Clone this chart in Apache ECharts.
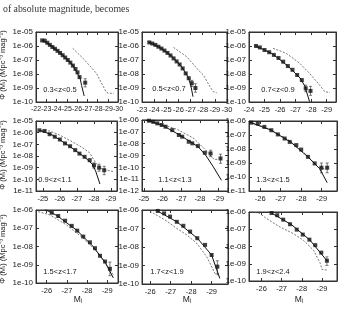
<!DOCTYPE html>
<html><head><meta charset="utf-8">
<script src="https://cdn.jsdelivr.net/npm/echarts@6/dist/echarts.min.js"></script>
<style>html,body{margin:0;padding:0;background:#fff}#c{width:338px;height:311px}</style>
</head><body><div id="c"></div>
<script>
// ---- panel labels (redshift bins) ----
const zLabels = ['0.3<z<0.5','0.5<z<0.7','0.7<z<0.9','0.9<z<1.1','1.1<z<1.3','1.3<z<1.5','1.5<z<1.7','1.7<z<1.9','1.9<z<2.4'];

// ---- x tick labels (absolute magnitude M_i) ----
const xTicks1 = [-22,-23,-24,-25,-26,-27,-28,-29,-30];
const xTicks2 = [-23,-24,-25,-26,-27,-28,-29,-30];
const xTicks3 = [-24,-25,-26,-27,-28,-29];
const xTicks4 = [-25,-26,-27,-28,-29];
const xTicks5 = [-25,-26,-27,-28,-29];
const xTicks6 = [-26,-27,-28,-29];
const xTicks789 = [-26,-27,-28,-29];

// ---- axis ranges [M bright, M faint], [phi min, phi max] ----
const xRanges = [[-22,-30],[-23,-30],[-24,-29.6],[-24.6,-29.35],[-24.9,-29.5],[-25.45,-29.75],[-25.47,-29.53],[-25.6,-29.8],[-25.38,-29.75]];
const yRanges = [[1e-10,1e-5],[1e-10,1e-5],[1e-10,1e-5],[1e-11,1e-5],[1e-12,1e-6],[1e-11,1e-6],[1e-10,1e-6],[1e-10,1e-6],[1e-10,1e-6]];

// ---- binned data points (filled squares): [M_i, Phi] ----
const pts1 = [[-22.6,2.5e-6],[-22.85,2.4e-6],[-23.1,1.7e-6],[-23.35,1.2e-6],[-23.6,8.5e-7],[-23.85,6.3e-7],[-24.1,4.5e-7],[-24.35,3.2e-7],[-24.6,2.2e-7],[-24.85,1.5e-7],[-25.1,1.0e-7],[-25.35,6.5e-8],[-25.6,4.0e-8],[-25.85,2.3e-8],[-26.05,1.3e-8],[-26.25,6.0e-9],[-26.8,2.4e-9]];
const pts2 = [[-23.6,1.8e-6],[-23.85,1.5e-6],[-24.1,1.2e-6],[-24.35,8.9e-7],[-24.6,6.6e-7],[-24.85,4.7e-7],[-25.1,3.2e-7],[-25.35,2.1e-7],[-25.6,1.3e-7],[-25.85,7.9e-8],[-26.1,4.8e-8],[-26.35,2.5e-8],[-26.6,1.1e-8],[-26.85,5e-9],[-27.1,2.2e-9],[-27.4,1.0e-9]];
const pts3 = [[-24.45,1.0e-6],[-24.7,7.9e-7],[-25.0,5.2e-7],[-25.3,3.6e-7],[-25.6,2.3e-7],[-25.9,1.4e-7],[-26.2,7.6e-8],[-26.5,3.7e-8],[-26.8,2.0e-8],[-27.1,8.5e-9],[-27.4,3.7e-9],[-27.65,9.5e-10],[-27.96,6.2e-10]];
const pts4 = [[-24.8,1.6e-6],[-25.1,1.4e-6],[-25.4,7.4e-7],[-25.7,4.5e-7],[-26.0,2.6e-7],[-26.3,1.2e-7],[-26.6,6.9e-8],[-26.9,3.2e-8],[-27.15,1.6e-8],[-27.45,8.5e-9],[-27.75,4.4e-9],[-28.0,1.6e-9],[-28.3,1.0e-9],[-28.6,6e-10]];
const pts5 = [[-25.27,8.7e-7],[-25.5,7e-7],[-25.72,5.2e-7],[-25.95,3.8e-7],[-26.16,2.7e-7],[-26.52,1.4e-7],[-26.87,5.4e-8],[-27.05,3.9e-8],[-27.4,1.45e-8],[-27.59,1.07e-8],[-27.89,6.3e-9],[-28.26,1.7e-9],[-28.57,1.5e-9],[-29.1,5.6e-10]];
const pts6 = [[-25.56,7.6e-7],[-25.88,6.5e-7],[-26.2,3.8e-7],[-26.54,2.2e-7],[-26.86,1.1e-7],[-27.19,5.6e-8],[-27.44,3.2e-8],[-27.76,1.9e-8],[-28.0,9.1e-9],[-28.33,2.75e-9],[-28.66,9.3e-10],[-28.99,4.6e-10],[-29.27,4.6e-10]];
const pts7 = [[-25.92,1.1e-6],[-26.25,7.1e-7],[-26.57,4.7e-7],[-26.91,2.6e-7],[-27.24,1.35e-7],[-27.51,7.4e-8],[-27.81,3.5e-8],[-28.14,1.7e-8],[-28.39,8.1e-9],[-28.64,3.1e-9],[-28.89,1.5e-9],[-29.13,6e-10]];
const pts8 = [[-26.37,8.9e-7],[-26.68,6.6e-7],[-26.97,4.4e-7],[-27.3,2.3e-7],[-27.62,1.4e-7],[-27.95,6.8e-8],[-28.3,3e-8],[-28.68,1.3e-8],[-29.0,3.7e-9],[-29.28,8.7e-10]];
const pts9 = [[-26.5,8.7e-7],[-26.78,6.5e-7],[-27.08,3.6e-7],[-27.42,1.95e-7],[-27.75,9.5e-8],[-28.05,4.9e-8],[-28.38,2.5e-8],[-28.67,1.2e-8],[-28.97,4.4e-9],[-29.25,1.5e-9]];

// ---- error bars on the faint bins: [M_i, Phi low, Phi high] ----
const err1 = [[-26.8,1.2e-9,4.6e-9]];
const err2 = [[-27.1,1.3e-9,3.5e-9],[-27.4,5e-10,2e-9]];
const err3 = [[-27.65,5.5e-10,1.6e-9],[-27.96,3e-10,1.3e-9]];
const err4 = [[-28.0,9e-10,2.6e-9],[-28.3,5e-10,2e-9],[-28.6,2.5e-10,1.3e-9]];
const err5 = [[-28.57,8e-10,2.8e-9],[-29.1,2.2e-10,1.3e-9]];
const err6 = [[-28.99,2e-10,1e-9],[-29.27,2e-10,1e-9]];
const err7 = [[-29.13,2.5e-10,1.4e-9]];
const err8 = [[-29.28,3.5e-10,1.8e-9]];
const err9 = [[-29.25,8e-10,2.5e-9]];

// ---- model fits (solid lines) ----
const fit1 = [[-22.6,2.6e-6],[-23.5,1.0e-6],[-24.5,2.6e-7],[-25.5,5e-8],[-26.0,1.3e-8],[-26.3,5e-9],[-26.45,1.5e-9],[-26.7,2.7e-10]];
const fit2 = [[-23.5,2.0e-6],[-24.5,7.5e-7],[-25.5,1.7e-7],[-26.3,3e-8],[-26.8,6e-9],[-27.0,1.8e-9],[-27.2,2.4e-10]];
const fit3 = [[-24.4,1.05e-6],[-25.5,2.8e-7],[-26.5,3.7e-8],[-27.3,5e-9],[-27.6,1.3e-9],[-27.9,1.05e-10]];
const fit4 = [[-24.8,1.6e-6],[-25.5,7e-7],[-26.5,8e-8],[-27.5,7e-9],[-27.9,2e-9],[-28.1,5e-10],[-28.35,4e-11]];
const fit5 = [[-25.1,1.0e-6],[-26.0,3.5e-7],[-27.0,4.5e-8],[-27.9,5.5e-9],[-28.3,1.1e-9],[-28.7,1.2e-10],[-29.15,8e-12]];
const fit6 = [[-25.5,8e-7],[-26.5,2.3e-7],[-27.5,3e-8],[-28.3,3e-9],[-28.9,4e-10],[-29.27,3.9e-11]];
const fit7 = [[-25.9,1.1e-6],[-26.5,5e-7],[-27.5,7.5e-8],[-28.3,1e-8],[-28.9,1.3e-9],[-29.3,1.9e-10]];
const fit8 = [[-26.3,9.5e-7],[-27.3,2.3e-7],[-28.3,3e-8],[-29.0,3.7e-9],[-29.4,2e-10]];
const fit9 = [[-26.5,8.7e-7],[-27.5,1.8e-7],[-28.4,2.4e-8],[-29.25,1.5e-9]];

// ---- comparison LF (dashed lines) ----
const cmp1 = [[-25.58,6.8e-7],[-26.6,1.3e-7],[-27.9,1.1e-8],[-28.83,5.5e-10],[-29.05,4.2e-10],[-29.6,4.2e-10]];
const cmp2 = [[-25.6,7.9e-7],[-26.69,1.7e-7],[-27.64,1.9e-8],[-28.05,8.5e-9],[-28.6,1.25e-9],[-28.87,5.5e-10],[-29.15,4.7e-10]];
const cmp3 = [[-25.55,6.8e-7],[-26.4,3e-7],[-27.27,5.8e-8],[-27.9,1.1e-8],[-28.55,1.6e-9],[-28.87,5.5e-10],[-29.2,4.7e-10]];
const cmp4 = [[-24.9,1.5e-6],[-25.4,1.4e-6],[-25.9,7.2e-7],[-26.57,2.2e-7],[-27.26,6e-8],[-27.74,1.9e-8],[-28.13,2.3e-9],[-28.43,8.5e-10],[-28.8,6e-10],[-29.2,4.4e-10]];
const cmp5 = [[-25.0,1.05e-6],[-25.9,4.6e-7],[-26.79,1.6e-7],[-27.68,2.75e-8],[-28.13,5.4e-9],[-28.48,1.5e-9],[-28.75,4.7e-10],[-29.0,4.7e-10]];
const cmp6 = [[-25.5,8.5e-7],[-26.5,2.5e-7],[-27.5,3.4e-8],[-28.3,3.3e-9],[-28.8,5.5e-10],[-29.2,3.5e-10]];
const cmp7 = [[-25.58,8.1e-7],[-26.16,5.4e-7],[-26.99,1.5e-7],[-27.81,2.8e-8],[-28.48,5.2e-9],[-28.97,9.8e-10],[-29.3,2.75e-10]];
const cmp8 = [[-25.84,1.1e-6],[-26.16,6.6e-7],[-26.73,2.9e-7],[-27.3,1.0e-7],[-27.79,4.5e-8],[-28.27,1.6e-8],[-28.76,3e-9],[-29.16,3.8e-10],[-29.4,2.7e-10]];
const cmp9 = [[-25.5,1.0e-6],[-25.88,8.7e-7],[-26.25,4.2e-7],[-26.92,1.35e-7],[-27.58,5.6e-8],[-28.08,2.3e-8],[-28.58,6.2e-9],[-28.92,1.05e-9],[-29.0,4.7e-10],[-29.25,4.3e-10]];

const header = 'of absolute magnitude, becomes';
const yTitle = 'Φ (Mᵢ) (Mpc⁻³ mag⁻¹)';
const xTitle = 'Mᵢ';

// ---------------- layout ----------------
const gridBoxes = [
  {left:36, top:32, width:82, height:70},
  {left:142, top:32, width:85, height:70},
  {left:249, top:32, width:87, height:70},
  {left:36, top:121, width:81, height:70},
  {left:142, top:120, width:86, height:71},
  {left:249, top:121, width:88, height:70},
  {left:36, top:210, width:82, height:73},
  {left:142, top:210, width:86, height:74},
  {left:249, top:212, width:88, height:69}
];
const xLabelSize = [7, 7.5, 7.5, 7.5, 7.5, 7.5, 7.5, 7.5, 7.5];
const xTickSets = [xTicks1,xTicks2,xTicks3,xTicks4,xTicks5,xTicks6,xTicks789,xTicks789,xTicks789];
const ptsAll = [pts1,pts2,pts3,pts4,pts5,pts6,pts7,pts8,pts9];
const errAll = [err1,err2,err3,err4,err5,err6,err7,err8,err9];
const fitAll = [fit1,fit2,fit3,fit4,fit5,fit6,fit7,fit8,fit9];
const cmpAll = [cmp1,cmp2,cmp3,cmp4,cmp5,cmp6,cmp7,cmp8,cmp9];
const labelPos = [[60,90],[169,89],[278,90],[55,180],[175,180],[273,180],[60,272],[167,272],[273,272]];

const FONT = '"Liberation Sans Narrow", "Liberation Sans", Arial, sans-serif';
const INK = '#1a1a1a';

function fmtExp(v){
  const e = Math.round(Math.log10(v));
  const a = Math.abs(e);
  return '1e' + (e<0?'-':'+') + (a<10?'0':'') + a;
}

function renderErr(params, api){
  const x = api.value(0);
  const lo = api.coord([x, api.value(1)]);
  const hi = api.coord([x, api.value(2)]);
  const c = 1.5;
  const st = {stroke:'#444', lineWidth:0.7};
  return {type:'group', children:[
    {type:'line', shape:{x1:lo[0],y1:lo[1],x2:hi[0],y2:hi[1]}, style:st},
    {type:'line', shape:{x1:lo[0]-c,y1:lo[1],x2:lo[0]+c,y2:lo[1]}, style:st},
    {type:'line', shape:{x1:hi[0]-c,y1:hi[1],x2:hi[0]+c,y2:hi[1]}, style:st}
  ]};
}

const grid=[], xAxis=[], yAxis=[], series=[];
gridBoxes.forEach((g,i)=>{
  grid.push(Object.assign({show:true, borderColor:'#333', borderWidth:1, backgroundColor:'transparent', outerBoundsMode:'none'}, g));
  const [xa,xb] = xRanges[i];
  const ticks = xTickSets[i];
  const baseX = {gridIndex:i, type:'value', inverse:true, min:Math.min(xa,xb), max:Math.max(xa,xb),
    splitLine:{show:false}, axisLine:{show:true,onZero:false,lineStyle:{color:'#333',width:1}}};
  xAxis.push(Object.assign({}, baseX, {position:'bottom',
    axisTick:{show:true, inside:true, length:3, customValues:ticks, lineStyle:{color:'#333'}},
    axisLabel:{show:true, customValues:ticks, showMinLabel:true, showMaxLabel:true, hideOverlap:false,
      fontSize:xLabelSize[i], fontFamily:FONT, color:INK, margin:4}}));
  xAxis.push(Object.assign({}, baseX, {position:'top',
    axisTick:{show:true, inside:true, length:3, customValues:ticks, lineStyle:{color:'#333'}},
    axisLabel:{show:false}}));
  const [ya,yb] = yRanges[i];
  const baseY = {gridIndex:i, type:'log', logBase:10, min:ya, max:yb, interval:1,
    splitLine:{show:false}, axisLine:{show:true,onZero:false,lineStyle:{color:'#333',width:1}},
    axisTick:{show:true, inside:true, length:3, lineStyle:{color:'#333'}}};
  yAxis.push(Object.assign({}, baseY, {position:'left',
    axisLabel:{show:true, showMinLabel:true, showMaxLabel:true, fontSize:8, fontFamily:FONT, color:INK, margin:3, formatter:fmtExp}}));
  yAxis.push(Object.assign({}, baseY, {position:'right', axisLabel:{show:false}}));

  series.push({type:'line', xAxisIndex:2*i, yAxisIndex:2*i, data:cmpAll[i], showSymbol:false, symbol:'none',
    lineStyle:{color:'#555', width:0.8, type:[2,1.5]}, silent:true, animation:false, z:2});
  series.push({type:'line', xAxisIndex:2*i, yAxisIndex:2*i, data:fitAll[i], showSymbol:false, symbol:'none',
    lineStyle:{color:'#111', width:1}, silent:true, animation:false, z:3});
  series.push({type:'custom', xAxisIndex:2*i, yAxisIndex:2*i, data:errAll[i], renderItem:renderErr,
    silent:true, animation:false, z:3});
  series.push({type:'scatter', xAxisIndex:2*i, yAxisIndex:2*i, data:ptsAll[i], symbol:'rect', symbolSize:4,
    itemStyle:{color:'#111'}, silent:true, animation:false, z:4});
});

const gtexts = labelPos.map((p,i)=>({type:'text', x:p[0], y:p[1], silent:true,
  style:{text:zLabels[i], align:'center', verticalAlign:'middle', font:'7.5px '+FONT, fill:INK}}));
gtexts.push({type:'text', x:3, y:9, silent:true,
  style:{text:header, align:'left', verticalAlign:'middle', font:'9.8px "Liberation Serif", "Times New Roman", serif', fill:'#333'}});
[65,155,249].forEach(cy=>{
  gtexts.push({type:'text', x:2.5, y:cy, rotation:Math.PI/2, silent:true,
    style:{text:yTitle, align:'center', verticalAlign:'middle', font:'7.5px '+FONT, fill:INK}});
});
[78,187,299].forEach(cx=>{
  gtexts.push({type:'text', x:cx, y:300, silent:true,
    style:{text:xTitle, align:'center', verticalAlign:'middle', font:'8.5px '+FONT, fill:INK}});
});

const chart = echarts.init(document.getElementById('c'), null, {renderer:'canvas'});
chart.setOption({animation:false, backgroundColor:'#fff', grid, xAxis, yAxis, series, graphic:gtexts});
</script>
</body></html>
